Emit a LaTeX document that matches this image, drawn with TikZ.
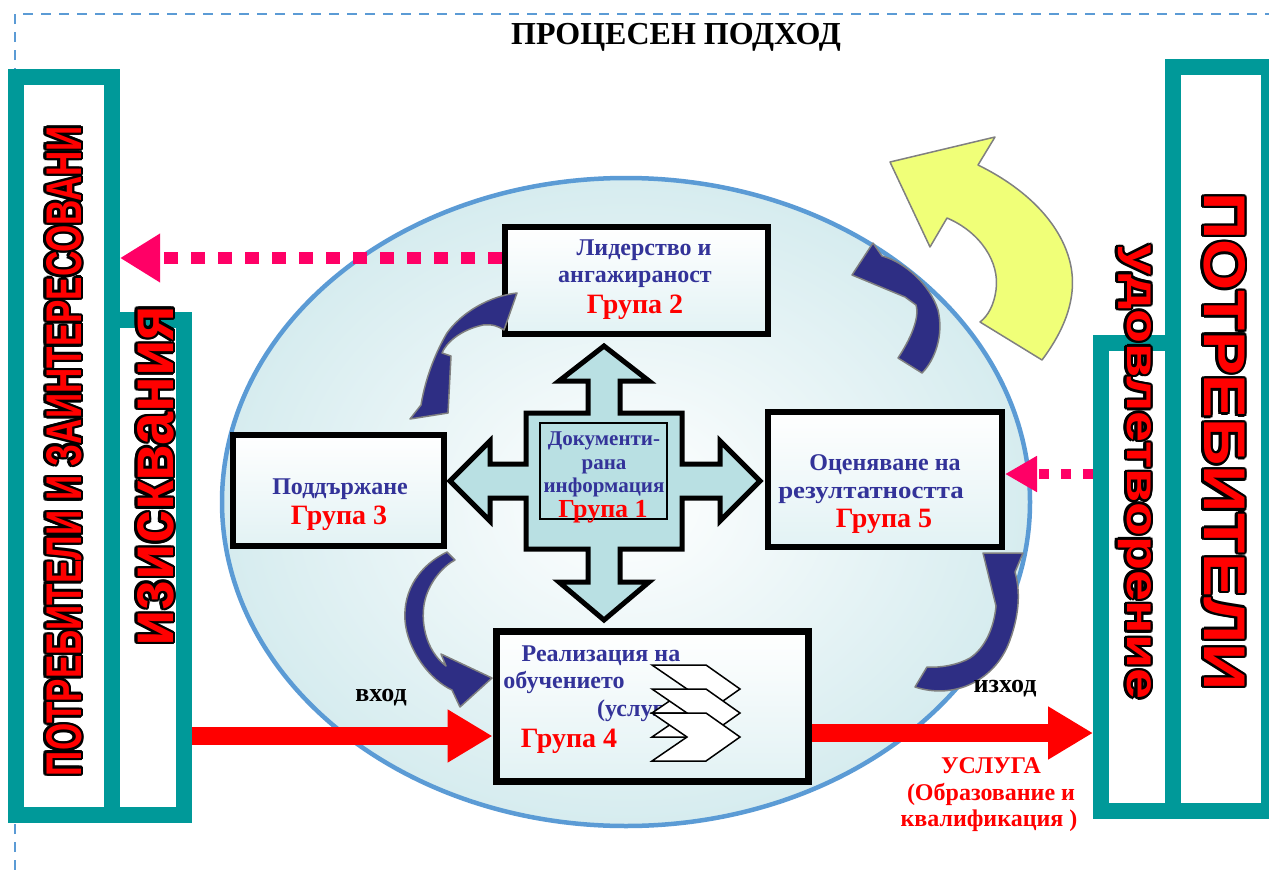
\documentclass[tikz,border=0pt]{standalone}
\usepackage{fontspec}
\setmainfont{Liberation Serif}
\newfontfamily\sansfont{Liberation Sans}
\usetikzlibrary{arrows.meta,calc}
\definecolor{teal1}{RGB}{0,153,153}
\definecolor{tblue}{RGB}{51,51,153}
\definecolor{dashblue}{RGB}{91,155,213}
\definecolor{ellline}{RGB}{91,155,213}
\definecolor{ellfill}{RGB}{214,236,239}
\definecolor{boxfill}{RGB}{226,242,244}
\definecolor{crossfill}{RGB}{185,224,227}
\definecolor{pinkc}{RGB}{255,0,102}
\definecolor{darkarr}{RGB}{46,46,132}
\definecolor{yell}{RGB}{240,255,120}
\definecolor{grayline}{RGB}{128,128,128}
\newcommand\olabel[3]{%
  \foreach \a in {0,30,...,330}{\node[#1,text=black,inner sep=0pt] at ([shift={(\a:2.4pt)}]#2) {#3};}
  \node[#1,text=red,inner sep=0pt] at (#2) {#3};}
\newcommand\chev[2]{\filldraw[chevst] (#1,#2) -- ++(54,0) -- ++(34,24) -- ++(-34,24) -- ++(-54,0) -- ++(35,-24) -- cycle;}
\begin{document}
\begin{tikzpicture}[x=1pt,y=-1pt,
  colbox/.style={draw=teal1,line width=16pt,fill=white,inner sep=0pt},
  gbox/.style={draw=black,line width=6pt,top color=white,bottom color=boxfill,inner sep=0pt},
  bl/.style={font=\bfseries\fontsize{21}{23}\selectfont,text=tblue,inner sep=0pt,anchor=base},
  bb/.style={font=\bfseries\fontsize{24}{26}\selectfont,text=tblue,inner sep=0pt,anchor=base},
  gr/.style={font=\bfseries\fontsize{28}{30}\selectfont,text=red,inner sep=0pt,anchor=base},
  lb/.style={font=\bfseries\fontsize{26}{28}\selectfont,text=black,inner sep=0pt,anchor=base},
  rl/.style={font=\bfseries\fontsize{24}{26}\selectfont,text=red,inner sep=0pt,anchor=base},
  darkshape/.style={fill=darkarr,draw=grayline,line width=1.5pt,line join=round},
  chevst/.style={fill=white,draw=black,line width=1.5pt,line join=miter},
  pinkdash/.style={draw=pinkc,line width=12pt,dash pattern=on 14pt off 13pt,-{Triangle[length=40pt,width=46pt]}},
  pinkdash2/.style={draw=pinkc,line width=10pt,dash pattern=on 10pt off 12pt,-{Triangle[length=32pt,width=34pt]}},
  redarrow/.style={draw=red,line width=18pt,-{Triangle[length=45pt,width=50pt]}},
  vtxt/.style={font=\sansfont\bfseries}
]
\useasboundingbox (0,0) rectangle (1269,870);
% dashed frame
\draw[dashblue,line width=2pt,dash pattern=on 10pt off 8pt] (15,870) -- (15,14) -- (1269,14);
% title
\node[font=\bfseries\fontsize{32}{34}\selectfont,inner sep=0pt] (title) at (676,37) {ПРОЦЕСЕН ПОДХОД};
% ellipse
\draw[ellline,line width=4.5pt,inner color=white,outer color=ellfill] (626,502) ellipse [x radius=404pt,y radius=324pt];
% yellow arrow
\filldraw[fill=yell,draw=grayline,line width=1.5pt,line join=round]
  (1042,360) .. controls (1066,328) and (1078,295) .. (1070,262)
  .. controls (1060,222) and (1025,188) .. (978,165)
  -- (995,137) -- (890,162) -- (930,247) -- (947,218)
  .. controls (980,232) and (1000,262) .. (996,290)
  .. controls (994,305) and (988,316) .. (980,322) -- cycle;
% arrow 3 (behind box 5)
\filldraw[darkshape] (915,687) .. controls (955,700) and (996,680) .. (1010,640)
  .. controls (1020,612) and (1020,590) .. (1015,572) -- (1023,553) -- (983,553) -- (996,606)
  .. controls (994,628) and (985,648) .. (970,658) .. controls (958,665) and (940,668) .. (927,667) -- cycle;
% cross arrow
\filldraw[fill=crossfill,draw=black,line width=5pt,line join=miter]
 (604,346) -- (649,381) -- (620,381) -- (620,413) -- (682,413) -- (682,464) -- (720,464) -- (720,441) -- (760,481) -- (720,521) -- (720,498) -- (682,498) -- (682,549) -- (620,549) -- (620,582) -- (649,582) -- (604,620) -- (559,582) -- (588,582) -- (588,549) -- (526,549) -- (526,498) -- (490,498) -- (490,521) -- (450,481) -- (490,441) -- (490,464) -- (526,464) -- (526,413) -- (588,413) -- (588,381) -- (559,381) -- cycle;
\node[draw=black,line width=1.2pt,minimum width=127pt,minimum height=96pt,inner sep=0pt] (g1) at (603.5,471) {};
\node[bl] at (604,445) {Документи-};
\node[bl] at (604,469) {рана};
\node[bl] at (604,492) {информация};
\node[gr,font=\bfseries\fontsize{26}{28}\selectfont] at (603,517) {Група 1};
% boxes
\node[gbox,minimum width=263pt,minimum height=107pt] (g2) at (636.5,280.5) {};
\node[gbox,minimum width=211pt,minimum height=111pt] (g3) at (338.5,490.5) {};
\node[gbox,minimum width=234pt,minimum height=135pt] (g5) at (885,479.5) {};
\node[gbox,line width=7pt,minimum width=312pt,minimum height=150pt] (g4) at (652,706) {};
% box texts
\node[bb] at (644,255) {Лидерство и};
\node[bb] at (635,282) {ангажираност};
\node[gr] at (635,313) {Група 2};
\node[bb] at (340,494) {Поддържане};
\node[gr] at (339,524) {Група 3};
\node[bb] at (885,470) {Оценяване на};
\node[bb] at (871,498) {\scalebox{1.12}[1]{резултатността}};
\node[gr] at (884,527) {Група 5};
\node[bb] at (601,661) {Реализация на};
\node[bb] at (564,688) {обучението};
\node[bb,anchor=base west] at (597,716) {(услуга)};
\node[gr] at (569,747) {Група 4};
\chev{652}{665}
\chev{652}{689}
\chev{652}{713}
% curved dark arrows
\filldraw[darkshape] (517,293) .. controls (490,296) and (462,312) .. (447,333)
  .. controls (437,350) and (426,375) .. (421,405) -- (410,419) -- (448,413) -- (451,356) -- (442,353)
  .. controls (446,343) and (460,330) .. (483,325) .. controls (492,324) and (498,326) .. (504,330) -- cycle;
\filldraw[darkshape] (447,552) .. controls (420,565) and (403,590) .. (405,620)
  .. controls (407,650) and (430,680) .. (452,690) -- (460,707) -- (492,678) -- (441,654) -- (446,666)
  .. controls (425,650) and (420,620) .. (425,600) .. controls (430,580) and (445,565) .. (455,560) -- cycle;
\filldraw[darkshape] (898,358) .. controls (910,340) and (920,318) .. (916,305) -- (905,297) -- (852,275) -- (873,243) -- (882,256)
  .. controls (905,262) and (930,285) .. (938,310) .. controls (944,335) and (935,360) .. (922,373) -- cycle;
% columns
\node[colbox,minimum width=96pt,minimum height=738pt] (col1) at (64,446) {};
\node[colbox,minimum width=72pt,minimum height=495pt] (col2) at (148,567.5) {};
\node[colbox,minimum width=96pt,minimum height=744pt] (colB) at (1221,439) {};
\node[colbox,minimum width=72pt,minimum height=468pt] (colA) at (1137,577) {};
% vertical outlined texts
\olabel{rotate=90,anchor=base,vtxt}{81,451}{\resizebox{650pt}{35pt}{ПОТРЕБИТЕЛИ И ЗАИНТЕРЕСОВАНИ}}
\olabel{rotate=90,anchor=base,vtxt}{173,476}{\resizebox{341pt}{36pt}{изисквания}}
\olabel{rotate=-90,anchor=base,vtxt}{1127,472}{\resizebox{455pt}{24pt}{удовлетворение}}
\olabel{rotate=-90,anchor=base,vtxt}{1204,441.5}{\resizebox{498pt}{41pt}{ПОТРЕБИТЕЛИ}}
% connectors
\coordinate (prow1) at (0,258);
\coordinate (prow2) at (0,474);
\coordinate (inrow) at (0,736);
\coordinate (outrow) at (0,733);
\draw[pinkdash] (g2.west |- prow1) -- (col1.east |- prow1);
\draw[pinkdash2] (colA.west |- prow2) -- (g5.east |- prow2);
\draw[redarrow] (col2.east |- inrow) -- (g4.west |- inrow);
\draw[redarrow] (g4.east |- outrow) -- (colA.west |- outrow);
% labels
\node[lb] (vhod) at (381,701) {вход};
\node[lb] (izhod) at (1005,692) {изход};
\node[rl] (usl1) at (991,773) {УСЛУГА};
\node[rl] (usl2) at (991,800) {(Образование и};
\node[rl] (usl3) at (989,826) {квалификация )};
\end{tikzpicture}
\end{document}
